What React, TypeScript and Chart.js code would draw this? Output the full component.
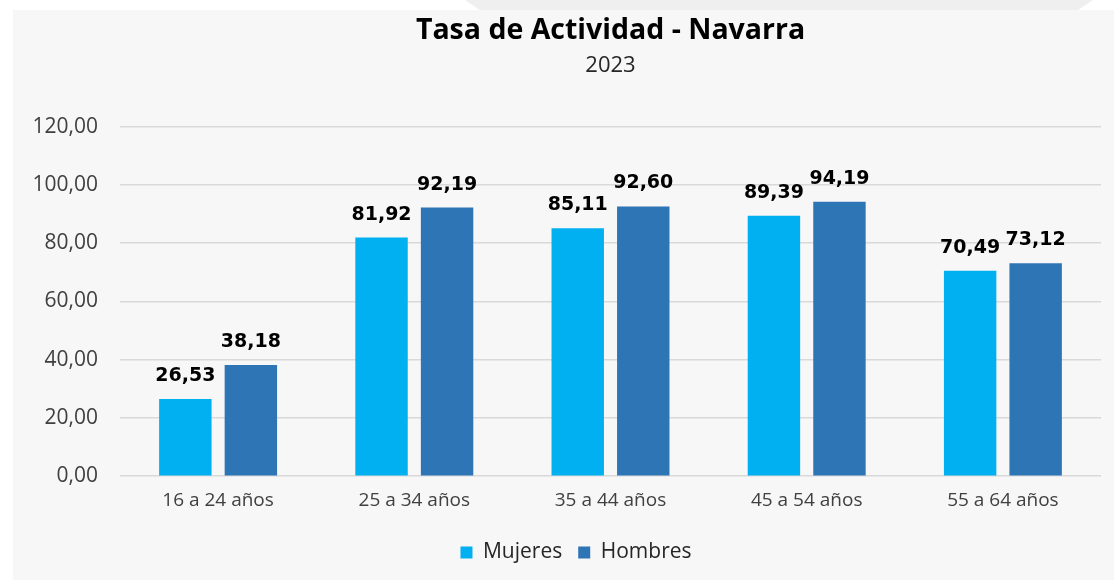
import React, { useEffect, useRef } from "react";
import { Chart, registerables } from "chart.js";

Chart.register(...registerables);

const categories = ["16 a 24 años", "25 a 34 años", "35 a 44 años", "45 a 54 años", "55 a 64 años"];
const mujeres = [26.53, 81.92, 85.11, 89.39, 70.49];
const hombres = [38.18, 92.19, 92.6, 94.19, 73.12];
const seriesNames = ["Mujeres", "Hombres"];
const titleText = "Tasa de Actividad - Navarra";
const subtitleText = "2023";

const fmt = (v: number) => v.toFixed(2).replace(".", ",");

const bgPlugin = {
  id: "bgPanel",
  beforeDraw(chart: any) {
    const ctx = chart.ctx;
    const w = chart.width;
    const h = chart.height;
    ctx.save();
    ctx.fillStyle = "#ffffff";
    ctx.fillRect(0, 0, w, h);
    ctx.fillStyle = "#efefef";
    ctx.beginPath();
    ctx.moveTo(465, 0);
    ctx.lineTo(1093, 0);
    ctx.lineTo(1078, 10);
    ctx.lineTo(480, 10);
    ctx.closePath();
    ctx.fill();
    ctx.fillStyle = "#f7f7f7";
    ctx.fillRect(13, 10, w - 13, h - 10);
    ctx.restore();
  },
};

const legendShiftPlugin = {
  id: "legendShift",
  afterLayout(chart: any) {
    if (chart.legend) {
      chart.legend.left += 51;
    }
  },
};

const labelPlugin = {
  id: "barLabels",
  afterDatasetsDraw(chart: any) {
    const ctx = chart.ctx;
    ctx.save();
    ctx.font = "bold 19px 'DejaVu Sans'";
    ctx.fillStyle = "#000000";
    ctx.textAlign = "center";
    ctx.textBaseline = "alphabetic";
    chart.data.datasets.forEach((ds: any, i: number) => {
      const meta = chart.getDatasetMeta(i);
      meta.data.forEach((bar: any, j: number) => {
        ctx.fillText(fmt(ds.data[j]), bar.x, bar.y - 18);
      });
    });
    ctx.restore();
  },
};

export default function App() {
  const ref = useRef<HTMLCanvasElement | null>(null);
  useEffect(() => {
    if (!ref.current) return;
    const chart = new Chart(ref.current, {
      type: "bar",
      data: {
        labels: categories,
        datasets: [
          {
            label: seriesNames[0],
            data: mujeres,
            backgroundColor: "#00b0f0",
            categoryPercentage: 0.668,
            barPercentage: 0.8,
          },
          {
            label: seriesNames[1],
            data: hombres,
            backgroundColor: "#2e75b6",
            categoryPercentage: 0.668,
            barPercentage: 0.8,
          },
        ],
      },
      options: {
        responsive: false,
        animation: false,
        layout: { padding: { left: 0, right: 13, top: 10, bottom: 7 } },
        scales: {
          x: {
            grid: { display: false, drawTicks: false },
            border: { display: false },
            ticks: { color: "#404040", font: { family: "'Open Sans'", size: 19 }, padding: 13 },
            afterFit: (scale: any) => {
              scale.height += 1;
            },
          },
          y: {
            min: 0,
            max: 120,
            ticks: {
              stepSize: 20,
              color: "#404040",
              font: { family: "'Open Sans'", size: 21 },
              padding: 22,
              callback: (v: any) => fmt(Number(v)),
            },
            grid: { color: "#d9d9d9", lineWidth: 1.5, drawTicks: false },
            border: { display: false },
            afterFit: (scale: any) => {
              scale.width = 120;
            },
          },
        },
        plugins: {
          title: {
            display: true,
            text: titleText,
            fullSize: false,
            color: "#000000",
            font: { family: "'Open Sans'", size: 28.5, weight: "bold" },
            padding: { top: 4, bottom: 4 },
          },
          subtitle: {
            display: true,
            text: subtitleText,
            fullSize: false,
            color: "#262626",
            font: { family: "'Open Sans'", size: 22 },
            padding: { top: 0, bottom: 48 },
          },
          legend: {
            position: "bottom",
            labels: {
              color: "#262626",
              font: { family: "'Open Sans'", size: 21 },
              boxWidth: 12,
              boxHeight: 12,
              padding: 16,
            },
          },
          tooltip: { enabled: false },
        },
      },
      plugins: [bgPlugin, legendShiftPlugin, labelPlugin],
    });
    return () => chart.destroy();
  }, []);
  return (
    <div style={{ position: "fixed", left: 0, top: 0, width: 1114, height: 580 }}>
      <canvas ref={ref} width={1114} height={580} />
    </div>
  );
}
